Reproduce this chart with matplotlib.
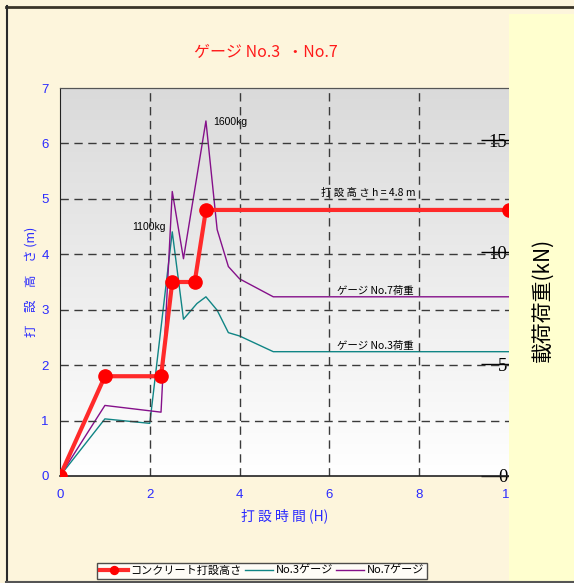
import numpy as np
import matplotlib
matplotlib.use('Agg')
import matplotlib.pyplot as plt
from matplotlib.colors import LinearSegmentedColormap
from matplotlib.patches import Rectangle
from matplotlib.lines import Line2D

plt.rcParams['font.family'] = ['Noto Sans CJK JP', 'DejaVu Sans']

# concrete placing height (m) against elapsed time (H)
height_t = [0, 1.0, 2.25, 2.5, 3.0, 3.25, 10]
height_m = [0, 1.8, 1.8, 3.5, 3.5, 4.8, 4.8]

# gauge loads (kN)
g3_t = [0, 1.0, 2.0, 2.5, 2.75, 3.05, 3.25, 3.5, 3.75, 4.0, 4.75, 10]
g3_kn = [0, 2.55, 2.35, 10.9, 7.0, 7.7, 8.0, 7.4, 6.4, 6.25, 5.55, 5.55]
g7_t = [0, 1.0, 2.25, 2.5, 2.75, 3.25, 3.5, 3.75, 4.0, 4.75, 10]
g7_kn = [0, 3.15, 2.85, 12.7, 9.7, 15.85, 11.0, 9.35, 8.8, 8.0, 8.0]

x_ticks = [0, 2, 4, 6, 8, 10]
m_ticks = [0, 1, 2, 3, 4, 5, 6, 7]
kn_ticks = [0, 5, 10, 15]

W, H = 574, 583
fig = plt.figure(figsize=(W / 100, H / 100), dpi=100)
fig.patch.set_facecolor('#fdf5dc')

l, r, t, b = 60, 509, 88, 476
ax = fig.add_axes([l / W, 1 - b / H, (r - l) / W, (b - t) / H])
ax2 = ax.twinx()
ax.set_zorder(2)
ax.patch.set_visible(False)

# grey-to-white background of the plot area
grad = np.linspace(0, 1, 256).reshape(-1, 1)
cmap = LinearSegmentedColormap.from_list('bg', ['#dadada', '#ffffff'])
ax2.imshow(grad, extent=[0, 1, 0, 1], transform=ax2.transAxes,
           aspect='auto', cmap=cmap, zorder=0)

blue = '#2a2aff'
ax2.plot(g3_t, g3_kn, color='#108585', lw=1.0, label='No.3ゲージ')
ax2.plot(g7_t, g7_kn, color='#85108a', lw=1.0, label='No.7ゲージ')
ax.plot(height_t, height_m, color='#ff2a2a', lw=3, marker='o', ms=9.5,
        mfc='#ff0000', mec='#ff0000', label='コンクリート打設高さ', zorder=3)

ax.set_xlim(0, 10)
ax.set_ylim(0, 7)
ax2.set_ylim(0, (b - t) / (b - 364) * 5)

ax.set_xticks(x_ticks)
ax.set_yticks(m_ticks)
ax2.set_yticks(kn_ticks)

# dashed grid
dash = dict(color='#3a3a3a', lw=1.0, ls=(0, (6, 4)), zorder=1)
for x in x_ticks[1:-1]:
    ax.axvline(x, **dash)
for y in m_ticks[1:-1]:
    ax.axhline(y, **dash)

ax.tick_params(axis='y', length=0, pad=8, labelcolor=blue, labelsize=9.5)
ax.tick_params(axis='x', length=0, pad=9, labelcolor=blue, labelsize=9.5)
for lab in ax.get_xticklabels() + ax.get_yticklabels():
    lab.set_family('Liberation Sans')

ax2.tick_params(axis='y', direction='in', length=20, width=1, pad=-1,
                labelsize=13.5)
for tk in ax2.yaxis.get_major_ticks():
    tk.label2.set_horizontalalignment('right')
    tk.label2.set_family('Liberation Serif')

for a in (ax, ax2):
    a.spines['right'].set_visible(False)
    a.spines['top'].set_color('#555555')
    a.spines['top'].set_linewidth(0.8)
ax.spines['left'].set_color('#222222')
ax.spines['bottom'].set_color('#222222')
ax.spines['bottom'].set_linewidth(1.2)
ax2.spines['left'].set_visible(False)
ax2.spines['bottom'].set_visible(False)

ax.set_xlabel('打 設 時 間 (H)', color=blue, fontsize=10, labelpad=6)
ax.set_ylabel('打　設　高　さ (m)', color=blue, fontsize=9, labelpad=3)

# annotations
ax2.text(3.42, 15.8, '1600kg', fontsize=7.5, va='center', ha='left',
         family='Liberation Sans')
ax2.text(2.35, 11.1, '1100kg', fontsize=7.5, va='center', ha='right',
         family='Liberation Sans')
ax.text(5.82, 5.1, '打 設 高 さ h = 4.8 m', fontsize=7.5, va='center')
ax2.text(6.18, 8.05, 'ゲージ No.7荷重', fontsize=7.5, va='bottom')
ax2.text(6.18, 5.6, 'ゲージ No.3荷重', fontsize=7.5, va='bottom')

# side panel, frame and title
fig.patches.append(Rectangle((r / W, 0), 1 - r / W, 1 - 14 / H,
                             transform=fig.transFigure, facecolor='#ffffcf',
                             edgecolor='none', zorder=3))
fig.add_artist(Line2D([6 / W, 1], [1 - 6.5 / H] * 2, color='#3a3428', lw=2, zorder=4))
fig.add_artist(Line2D([6.5 / W] * 2, [1 - 6 / H, 1 / H], color='#2a2a2a', lw=1.5, zorder=4))
fig.add_artist(Line2D([6 / W, 1], [1.2 / H] * 2, color='#555555', lw=1.5, zorder=4))

fig.text(266 / W, 1 - 53 / H, 'ゲージ No.3  ・No.7', color='#ff1a1a',
         fontsize=11.5, ha='center', va='center')
fig.text(543 / W, 1 - 300 / H, '載荷荷重(kN)', rotation=90, fontsize=15,
         ha='center', va='center', zorder=5)

h1, l1 = ax.get_legend_handles_labels()
h2, l2 = ax2.get_legend_handles_labels()
leg = fig.legend(h1 + h2, l1 + l2, ncol=3, loc='upper left',
                 bbox_to_anchor=(97 / W, 1 - 563 / H), fontsize=8,
                 frameon=True, fancybox=False, borderpad=0.25,
                 handlelength=2.5, handletextpad=0.25, columnspacing=0.3,
                 borderaxespad=0, markerscale=0.6)
leg.get_frame().set_edgecolor('#222222')
leg.get_frame().set_linewidth(1.0)
leg.get_frame().set_facecolor('white')
leg.set_zorder(6)

fig.savefig('out.png', dpi=100, facecolor=fig.get_facecolor())
